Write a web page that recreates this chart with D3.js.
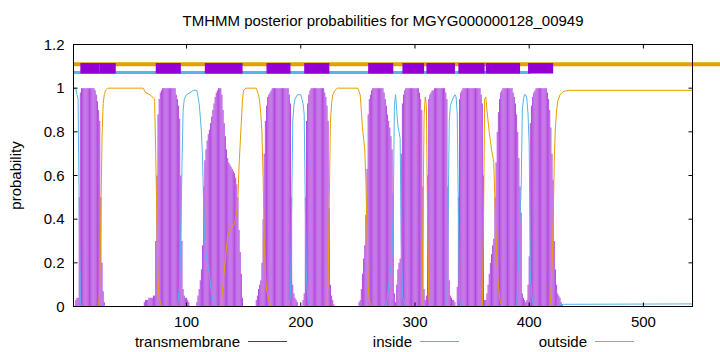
<!DOCTYPE html>
<html>
<head>
<meta charset="utf-8">
<script src="https://cdn.jsdelivr.net/npm/d3@7"></script>
<style>
  body { margin: 0; background: #fff; }
  text { font-family: "Liberation Sans", Arial, sans-serif; }
</style>
</head>
<body>
<svg id="chart" width="720" height="352"></svg>
<script>
// ---- data ----
const seqLength = 543;
const xTicks = [100, 200, 300, 400, 500];
const yTicks = [0, 0.2, 0.4, 0.6, 0.8, 1, 1.2];
const legendLabels = ["transmembrane", "inside", "outside"];

// transmembrane posterior, per residue, for each helix (first residue in tmStarts)
const tmStarts = [3, 63, 109, 161, 202, 251, 284, 310, 337, 362, 397];
const tm1 = [0.03,0.04,0.04,0.5,0.98,1,1,1,1,1,1,1,1,1,1,1,1,0.99,0.97,0.94,0.9,0.85,0.5,0.2,0.07,0.02];
const tm2 = [0.02,0.03,0.03,0.03,0.04,0.04,0.04,0.04,0.05,0.05,0.3,0.6,0.88,0.95,0.98,0.99,1,1,1,1,1,1,1,1,1,1,1,1,0.97,0.95,0.92,0.86,0.6,0.3,0.08,0.05,0.04,0.04,0.03,0.02];
const tm3 = [0.02,0.05,0.08,0.12,0.17,0.28,0.55,0.67,0.72,0.76,0.79,0.81,0.84,0.87,0.9,0.93,0.96,0.98,0.99,1,1,1,0.97,0.9,0.84,0.78,0.72,0.68,0.66,0.65,0.64,0.63,0.62,0.61,0.59,0.56,0.5,0.35,0.25,0.15,0.04];
const tm4 = [0.03,0.05,0.08,0.1,0.12,0.2,0.4,0.7,0.85,0.92,0.96,0.97,0.98,0.99,1,1,1,1,1,1,1,1,1,1,1,1,1,1,1,0.97,0.93,0.5,0.1,0.06,0.04,0.03,0.02];
const tm5 = [0.03,0.06,0.5,0.85,0.93,0.97,0.99,1,1,1,1,1,1,1,1,1,1,1,1,0.98,0.96,0.92,0.85,0.45,0.1,0.05,0.03,0.01];
const tm6 = [0.02,0.03,0.08,0.15,0.22,0.28,0.42,0.63,0.88,0.95,0.97,0.99,1,1,1,1,1,1,1,1,1,1,0.98,0.95,0.92,0.88,0.85,0.82,0.78,0.72,0.52,0.06,0.02];
const tm7 = [0.1,0.17,0.2,0.22,0.7,0.93,0.97,0.99,1,1,1,1,1,1,1,1,1,1,1,1,0.98,0.95,0.9,0.55,0.08,0.03];
const tm8 = [0.05,0.6,0.95,0.97,0.98,0.99,0.99,1,1,1,1,1,1,1,1,1,1,0.98,0.95,0.55,0.12,0.05,0.04,0.03,0.03,0.02];
const tm9 = [0.09,0.5,0.95,0.98,0.99,1,1,1,1,1,1,1,1,1,1,1,1,1,1,1,1,0.97,0.93,0.6,0.03];
const tm10 = [0.03,0.06,0.1,0.15,0.2,0.24,0.28,0.31,0.5,0.66,0.8,0.89,0.95,0.98,0.99,1,1,1,1,1,1,1,1,1,0.98,0.96,0.93,0.88,0.8,0.68,0.55,0.43,0.06,0.04,0.03];
const tm11 = [0.02,0.03,0.1,0.23,0.84,0.92,0.96,0.98,0.99,1,1,1,1,1,1,1,1,1,1,0.98,0.95,0.9,0.82,0.7,0.58,0.3,0.17,0.1,0.06,0.05,0.04,0.02,0.01];
const tmPeaks = [tm1, tm2, tm3, tm4, tm5, tm6, tm7, tm8, tm9, tm10, tm11];

// inside / outside posterior, [residue, probability]
const insidePts = [[1,1],[3,1],[4,0.97],[5,0.95],[6,0.45],[7,0.02],[8,0],[92,0],[93,0.04],[94,0.1],[95,0.35],[96,0.65],[97,0.9],[98,0.95],[100,0.97],[103,0.98],[106,0.99],[109,0.99],[110,0.96],[111,0.93],[112,0.87],[113,0.8],[114,0.68],[115,0.45],[116,0.3],[117,0.24],[118,0.21],[119,0.18],[120,0.15],[121,0.1],[122,0.06],[123,0.03],[125,0.01],[127,0],[190,0],[191,0.05],[192,0.45],[193,0.85],[194,0.92],[195,0.95],[197,0.97],[200,0.97],[201,0.95],[202,0.93],[203,0.88],[204,0.45],[205,0.12],[206,0.05],[207,0.02],[209,0],[275,0],[276,0.05],[277,0.1],[278,0.14],[279,0.18],[280,0.25],[281,0.45],[282,0.92],[283,0.97],[284,0.9],[285,0.83],[286,0.8],[287,0.77],[288,0.3],[289,0.05],[291,0],[328,0],[329,0.4],[330,0.85],[331,0.92],[333,0.95],[335,0.97],[336,0.96],[337,0.88],[338,0.45],[339,0.03],[340,0],[389,0],[390,0.12],[391,0.28],[392,0.42],[393,0.55],[394,0.9],[395,0.95],[396,0.97],[397,0.97],[398,0.95],[399,0.88],[400,0.74],[401,0.15],[402,0.06],[403,0.02],[405,0],[423,0],[426,0.005],[430,0.01],[543,0.012]];
const outsidePts = [[1,0],[23,0],[24,0.1],[25,0.45],[26,0.78],[27,0.93],[28,0.97],[29,0.99],[31,1],[62,1],[64,0.98],[68,0.97],[72,0.95],[73,0.7],[74,0.4],[75,0.12],[76,0.04],[78,0],[130,0],[132,0.1],[134,0.22],[136,0.32],[138,0.35],[142,0.38],[144,0.43],[145,0.5],[146,0.65],[147,0.75],[148,0.85],[149,0.95],[150,0.99],[152,1],[161,1],[163,0.97],[164,0.94],[165,0.88],[166,0.8],[167,0.6],[168,0.3],[169,0.15],[170,0.08],[172,0.03],[174,0],[223,0],[224,0.12],[225,0.5],[226,0.85],[227,0.93],[228,0.97],[230,0.99],[232,1],[250,1],[252,0.97],[253,0.9],[254,0.82],[255,0.77],[256,0.72],[257,0.58],[258,0.35],[259,0.1],[260,0.03],[262,0],[306,0],[307,0.4],[308,0.88],[309,0.96],[310,0.92],[311,0.4],[312,0.05],[313,0],[359,0],[360,0.38],[361,0.95],[362,0.96],[363,0.9],[364,0.85],[365,0.8],[366,0.76],[367,0.72],[368,0.69],[369,0.66],[370,0.48],[371,0.32],[372,0.18],[373,0.1],[374,0.04],[376,0],[418,0],[419,0.05],[420,0.18],[421,0.38],[422,0.68],[423,0.82],[424,0.9],[425,0.94],[427,0.97],[430,0.985],[435,0.99],[543,0.99]];

// predicted topology drawn above the curves
const boxStart = [7, 24, 73, 116, 170, 203, 259, 289, 310, 338, 362, 399];
const boxEnd   = [24, 38, 95, 149, 191, 225, 281, 308, 335, 361, 392, 421];
const insideBar = [1, 401];
const outsideBar = [1, 600];

// ---- chart ----
const colors = { tm: "#9400d3", inside: "#56b4e9", outside: "#e69f00" };
const margin = { left: 73.5, right: 27.5, top: 44.5, bottom: 45.5 };
const W = 720, H = 352;
const fs = "15px";

const svg = d3.select("#chart");

const x = d3.scaleLinear().domain([1, seqLength]).range([margin.left, W - margin.right]);
const y = d3.scaleLinear().domain([0, 1.2]).range([H - margin.bottom, margin.top]);

// transmembrane impulses
const impulses = [];
tmPeaks.forEach((vals, k) => vals.forEach((v, i) => impulses.push({ r: tmStarts[k] + i, p: v })));

svg.append("g")
  .selectAll("line")
  .data(impulses)
  .enter().append("line")
  .attr("x1", d => x(d.r)).attr("x2", d => x(d.r))
  .attr("y1", y(0)).attr("y2", d => y(d.p))
  .attr("stroke", colors.tm)
  .attr("stroke-opacity", 0.72)
  .attr("stroke-width", 1);

const line = d3.line().x(d => x(d[0])).y(d => y(d[1]));

svg.append("path").datum(insidePts)
  .attr("d", line).attr("fill", "none")
  .attr("stroke", colors.inside).attr("stroke-width", 1);

svg.append("path").datum(outsidePts)
  .attr("d", line).attr("fill", "none")
  .attr("stroke", colors.outside).attr("stroke-width", 1);

// topology bars
svg.append("line")
  .attr("x1", x(outsideBar[0])).attr("x2", x(outsideBar[1]))
  .attr("y1", y(1.11)).attr("y2", y(1.11))
  .attr("stroke", colors.outside).attr("stroke-width", 4);

svg.append("line")
  .attr("x1", x(insideBar[0])).attr("x2", x(insideBar[1]))
  .attr("y1", y(1.072)).attr("y2", y(1.072))
  .attr("stroke", colors.inside).attr("stroke-width", 3);

svg.append("g")
  .selectAll("rect")
  .data(boxStart.map((s, i) => [s, boxEnd[i]]))
  .enter().append("rect")
  .attr("x", d => x(d[0]))
  .attr("width", d => x(d[1]) - x(d[0]))
  .attr("y", y(1.115))
  .attr("height", y(1.067) - y(1.115))
  .attr("fill", colors.tm);

// frame
svg.append("rect")
  .attr("x", x(1)).attr("y", y(1.2))
  .attr("width", x(seqLength) - x(1)).attr("height", y(0) - y(1.2))
  .attr("fill", "none").attr("stroke", "#000").attr("stroke-width", 1);

// ticks (inward, mirrored like gnuplot)
const tk = 4;
const axisG = svg.append("g").attr("stroke", "#000").attr("stroke-width", 1);
xTicks.forEach(t => {
  axisG.append("line").attr("x1", x(t)).attr("x2", x(t)).attr("y1", y(0)).attr("y2", y(0) - tk);
  axisG.append("line").attr("x1", x(t)).attr("x2", x(t)).attr("y1", y(1.2)).attr("y2", y(1.2) + tk);
});
yTicks.forEach(t => {
  axisG.append("line").attr("x1", x(1)).attr("x2", x(1) + tk).attr("y1", y(t)).attr("y2", y(t));
  axisG.append("line").attr("x1", x(seqLength)).attr("x2", x(seqLength) - tk).attr("y1", y(t)).attr("y2", y(t));
});

svg.append("g").selectAll("text")
  .data(xTicks).enter().append("text")
  .attr("x", d => x(d)).attr("y", y(0) + 20)
  .attr("text-anchor", "middle")
  .attr("font-size", fs)
  .text(d => d);

svg.append("g").selectAll("text")
  .data(yTicks).enter().append("text")
  .attr("x", x(1) - 9).attr("y", d => y(d) + 5)
  .attr("text-anchor", "end")
  .attr("font-size", fs)
  .text(d => d3.format("~g")(d));

// titles
svg.append("text")
  .attr("x", (x(1) + x(seqLength)) / 2).attr("y", 26)
  .attr("text-anchor", "middle")
  .attr("font-size", fs)
  .text("TMHMM posterior probabilities for MGYG000000128_00949");

svg.append("text")
  .attr("transform", `translate(21,${(y(0) + y(1.2)) / 2}) rotate(-90)`)
  .attr("text-anchor", "middle")
  .attr("font-size", fs)
  .text("probability");

// legend
const legendX = [240, 412, 587];
const legendColors = [colors.tm, colors.inside, colors.outside];
const legendY = 341.5;
legendLabels.forEach((lab, i) => {
  svg.append("text")
    .attr("x", legendX[i]).attr("y", legendY + 5)
    .attr("text-anchor", "end")
    .attr("font-size", fs)
    .text(lab);
  svg.append("line")
    .attr("x1", legendX[i] + 8).attr("x2", legendX[i] + 47)
    .attr("y1", legendY).attr("y2", legendY)
    .attr("stroke", legendColors[i]).attr("stroke-width", 1);
});
</script>
</body>
</html>
